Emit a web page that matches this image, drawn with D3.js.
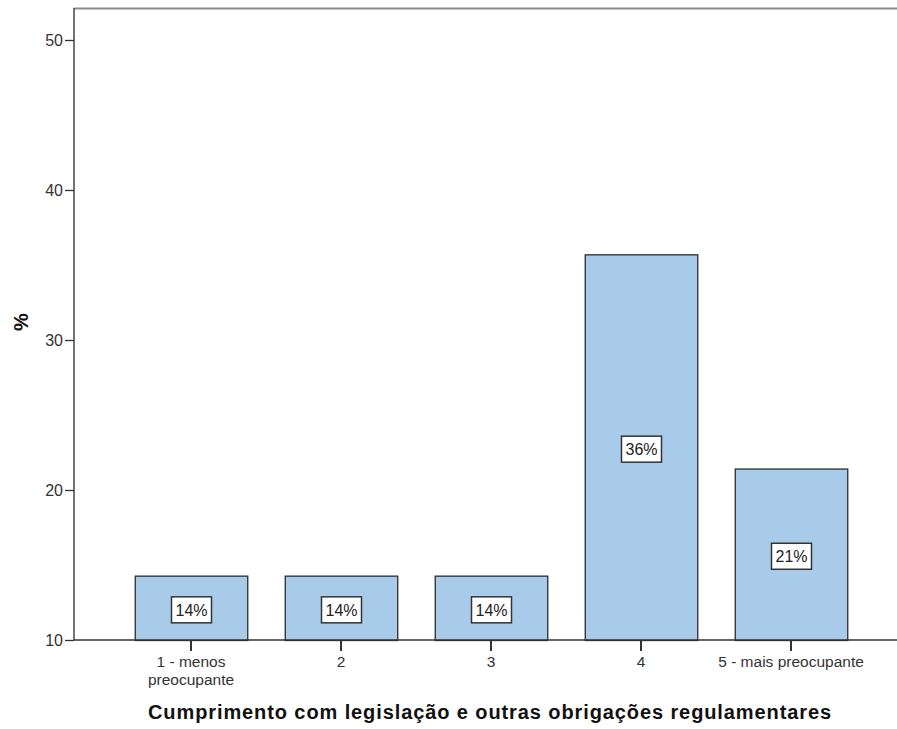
<!DOCTYPE html>
<html><head><meta charset="utf-8">
<script src="https://cdn.jsdelivr.net/npm/d3@7"></script>
<style>body{margin:0;background:#fff}svg{display:block}</style>
</head><body>
<svg id="c" width="897" height="729"></svg>
<script>
const categories = ["1 - menos\npreocupante", "2", "3", "4", "5 - mais preocupante"];
const values = [14.29, 14.29, 14.29, 35.71, 21.43];
const valueLabels = ["14%", "14%", "14%", "36%", "21%"];
const yTicks = [10, 20, 30, 40, 50];
const xTitle = "Cumprimento com legislação e outras obrigações regulamentares";
const yTitle = "%";

(function () {
const svg = d3.select("#c");
const mLeft = 74, mRight = 897, mTop = 8, mBottom = 640;
const font = "'Liberation Sans', Arial, sans-serif";

const y = d3.scaleLinear().domain([10, 10 + (mBottom - mTop) / 15]).range([mBottom, mTop]);
const x = d3.scaleBand().domain(categories).range([116, 866]).paddingInner(0.25).paddingOuter(0.125);

// frame top line
svg.append("line").attr("x1", mLeft).attr("x2", mRight).attr("y1", mTop + 0.5).attr("y2", mTop + 0.5)
  .attr("stroke", "#8a8a8a").attr("stroke-width", 2);

// bars
svg.selectAll("rect.bar").data(values).join("rect").attr("class", "bar")
  .attr("x", (d, i) => x(categories[i]) + 0.5)
  .attr("y", d => y(d) + 0.5)
  .attr("width", x.bandwidth())
  .attr("height", d => mBottom - y(d))
  .attr("fill", "#a9cbea").attr("stroke", "#2b2b2b").attr("stroke-width", 1.3);

// y axis
const yAxis = d3.axisLeft(y).tickValues(yTicks).tickSize(9).tickSizeOuter(0).tickFormat(d3.format("d"));
const gy = svg.append("g").attr("transform", `translate(${mLeft},0)`).call(yAxis);
gy.select(".domain").attr("stroke", "#444").attr("stroke-width", 1.5).attr("d", `M0,${mTop}V${mBottom}`);
gy.selectAll(".tick line").attr("stroke", "#333").attr("stroke-width", 1.3);
gy.selectAll(".tick text").attr("font-family", font).attr("font-size", 16).attr("fill", "#333").attr("x", -11);

// x axis
const xAxis = d3.axisBottom(x).tickSize(11).tickSizeOuter(0).tickFormat("");
const gx = svg.append("g").attr("transform", `translate(0,${mBottom})`).call(xAxis);
gx.select(".domain").attr("stroke", "#333").attr("stroke-width", 1.5).attr("d", `M${mLeft},0H${mRight}`);
gx.selectAll(".tick line").attr("stroke", "#333").attr("stroke-width", 2);
gx.selectAll(".tick").each(function(d) {
  const lines = d.split("\n");
  const t = d3.select(this).append("text").attr("font-family", font).attr("font-size", 15.5)
    .attr("fill", "#333").attr("text-anchor", "middle");
  lines.forEach((l, i) => t.append("tspan").attr("x", 0).attr("y", 27 + i * 18).text(l));
});

// value labels
const lab = svg.selectAll("g.lab").data(values).join("g").attr("class", "lab")
  .attr("transform", (d, i) => `translate(${x(categories[i]) + x.bandwidth() / 2 + 0.5},${(y(d) + mBottom) / 2 + 2})`);
lab.append("rect").attr("x", -20).attr("y", -13).attr("width", 40).attr("height", 26)
  .attr("fill", "#fff").attr("stroke", "#333").attr("stroke-width", 1.5);
lab.append("text").attr("text-anchor", "middle").attr("dy", "0.36em")
  .attr("font-family", font).attr("font-size", 16).attr("fill", "#222")
  .text((d, i) => valueLabels[i]);

// titles
svg.append("text").attr("x", 490).attr("y", 719).attr("text-anchor", "middle")
  .attr("font-family", font).attr("font-weight", "bold").attr("font-size", 20).attr("fill", "#111")
  .attr("letter-spacing", 0.9)
  .text(xTitle);
svg.append("text").attr("transform", "translate(28,322) rotate(-90)").attr("text-anchor", "middle")
  .attr("font-family", font).attr("font-weight", "bold").attr("font-size", 20).attr("fill", "#111")
  .text(yTitle);
})();
</script>
</body></html>
